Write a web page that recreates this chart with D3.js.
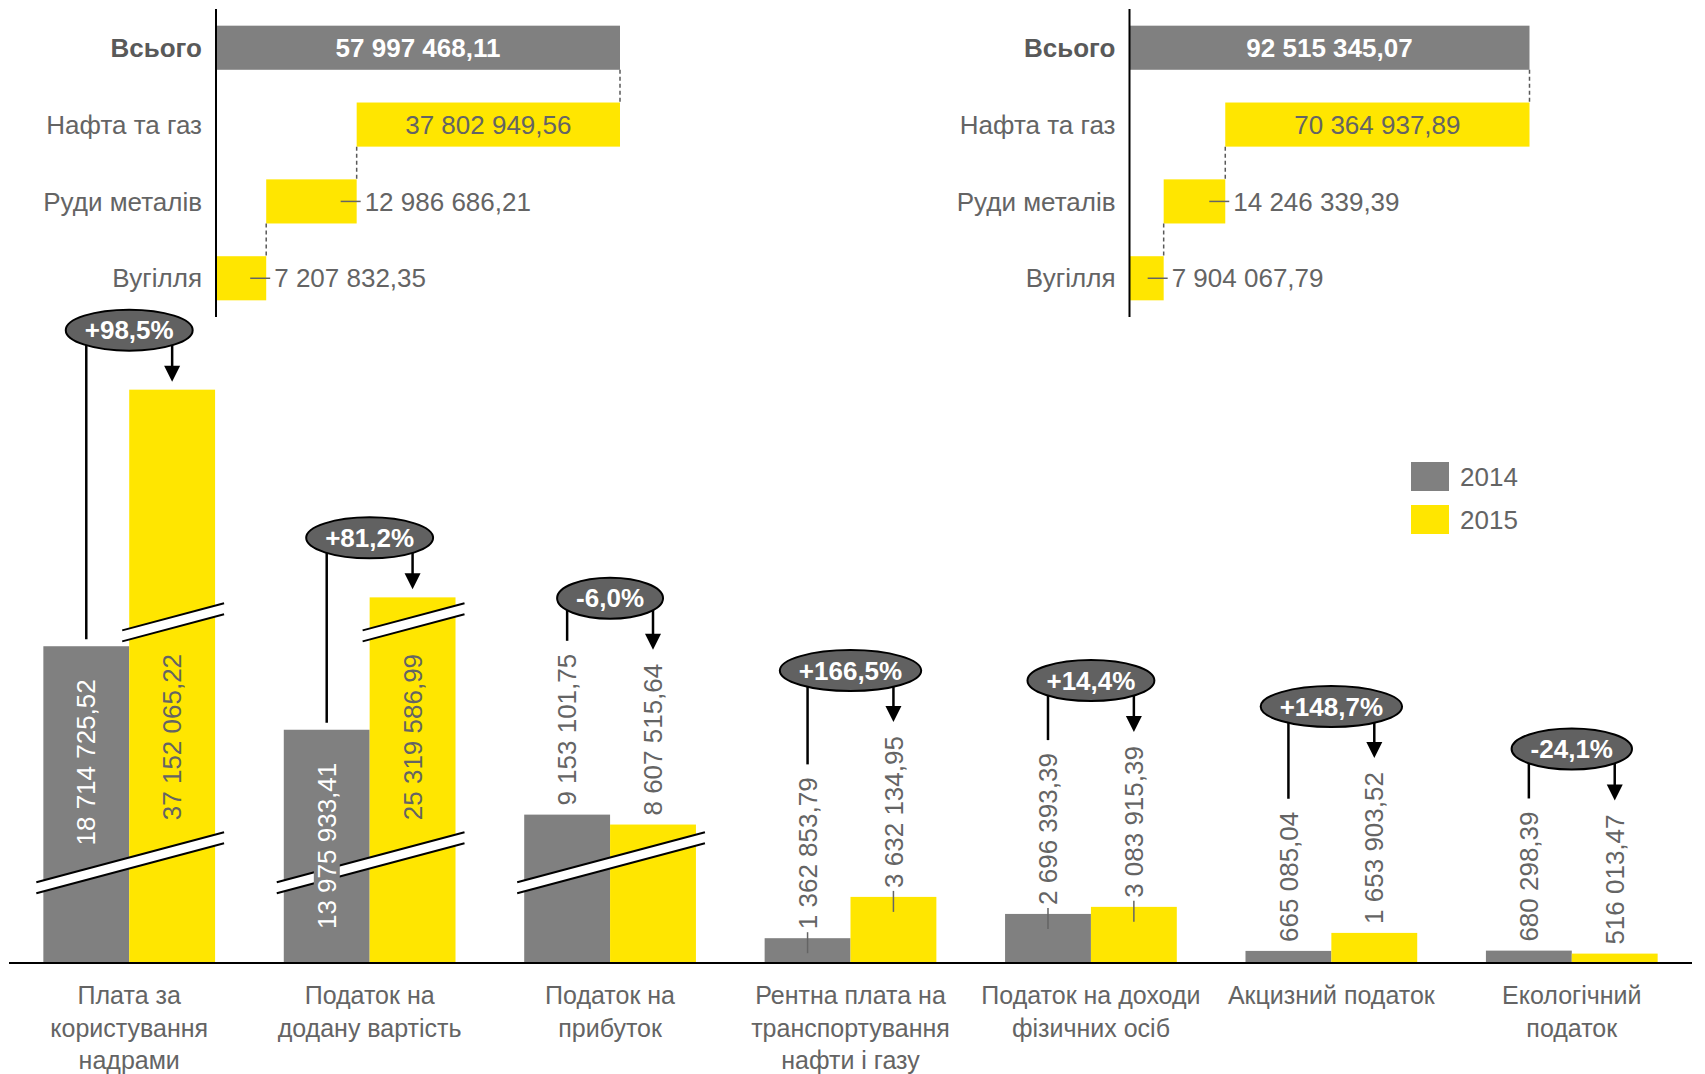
<!DOCTYPE html>
<html>
<head>
<meta charset="utf-8">
<script src="https://cdn.jsdelivr.net/npm/d3@7"></script>
<style>
  body { margin: 0; background: #fff; }
  svg { display: block; }
  text { font-family: Arial, "Liberation Sans", sans-serif; }
</style>
</head>
<body>
<div id="container"></div>
<script>
// top panels: split of the total by mineral (oil/gas, ores, coal)
const mineralRows = ["Всього", "Нафта та газ", "Руди металів", "Вугілля"];
const waterfallLeft = [37802949.56, 12986686.21, 7207832.35];
const waterfallRight = [70364937.89, 14246339.39, 7904067.79];
const waterfallTotals = [57997468.11, 92515345.07];

// bottom chart
const years = ["2014", "2015"];
const categories = [
  ["Плата за", "користування", "надрами"],
  ["Податок на", "додану вартість"],
  ["Податок на", "прибуток"],
  ["Рентна плата на", "транспортування", "нафти і газу"],
  ["Податок на доходи", "фізичних осіб"],
  ["Акцизний податок"],
  ["Екологічний", "податок"]
];
const values2014 = [18714725.52, 13975933.41, 9153101.75, 1362853.79, 2696393.39, 665085.04, 680298.39];
const values2015 = [37152065.22, 25319586.99, 8607515.64, 3632134.95, 3083915.39, 1653903.52, 516013.47];
// part of the value hidden by the axis breaks
const cutLower = [1310000, 1160000, 1000000, 0, 0, 0, 0];
const cutUpper2015 = [4340000, 4070000, 0, 0, 0, 0, 0];
const leaderGroups = [3, 4];

const W = 1705, H = 1074;
const grey = "#808080", yellow = "#FFE600", textGrey = "#646464", darkGrey = "#595959";

const loc = d3.formatLocale({decimal: ",", thousands: " ", grouping: [3], currency: ["", ""], minus: "-"});
const money = loc.format(",.2f");
const pct = loc.format("+.1%");

const svg = d3.select("#container")
  .append("svg")
  .attr("width", W)
  .attr("height", H);

//---------------- waterfalls
function drawWaterfall(parts, total, axisX, rightX) {
  const g = svg.append("g");
  const x = d3.scaleLinear().domain([0, total]).range([axisX, rightX]);
  const y = d3.scaleBand().domain(mineralRows).range([9, 317]).paddingInner(0.426).paddingOuter(0.217);
  const oil = parts[0], ore = parts[1], coal = parts[2];
  const segs = [
    {name: mineralRows[0], a: 0, b: total, v: total, fill: grey, bold: true},
    {name: mineralRows[1], a: coal + ore, b: total, v: oil, fill: yellow},
    {name: mineralRows[2], a: coal, b: coal + ore, v: ore, fill: yellow},
    {name: mineralRows[3], a: 0, b: coal, v: coal, fill: yellow}
  ];

  g.selectAll("rect")
    .data(segs)
    .join("rect")
    .attr("x", d => x(d.a))
    .attr("y", d => y(d.name))
    .attr("width", d => x(d.b) - x(d.a))
    .attr("height", y.bandwidth())
    .attr("fill", d => d.fill);

  // dashed connectors
  for (let i = 0; i < segs.length - 1; i++) {
    const cx = x(segs[i + 1].b);
    g.append("line")
      .attr("x1", cx).attr("x2", cx)
      .attr("y1", y(segs[i].name) + y.bandwidth())
      .attr("y2", y(segs[i + 1].name))
      .attr("stroke", darkGrey)
      .attr("stroke-width", 1.5)
      .attr("stroke-dasharray", "4,3");
  }

  g.selectAll("text.cat")
    .data(segs)
    .join("text")
    .attr("class", "cat")
    .attr("x", axisX - 14)
    .attr("y", d => y(d.name) + y.bandwidth() / 2)
    .attr("dy", "0.35em")
    .attr("text-anchor", "end")
    .attr("font-size", 26)
    .attr("font-weight", d => d.bold ? "bold" : null)
    .attr("fill", d => d.bold ? darkGrey : textGrey)
    .text(d => d.name);

  segs.forEach(d => {
    const w = x(d.b) - x(d.a);
    const cy = y(d.name) + y.bandwidth() / 2;
    if (w > 150) {
      g.append("text")
        .attr("x", (x(d.a) + x(d.b)) / 2)
        .attr("y", cy)
        .attr("dy", "0.35em")
        .attr("text-anchor", "middle")
        .attr("font-size", 26)
        .attr("font-weight", d.bold ? "bold" : null)
        .attr("fill", d.bold ? "#fff" : textGrey)
        .text(money(d.v));
    } else {
      const ex = x(d.b);
      g.append("line")
        .attr("x1", ex - 16).attr("x2", ex + 4)
        .attr("y1", cy).attr("y2", cy)
        .attr("stroke", textGrey)
        .attr("stroke-width", 1.5);
      g.append("text")
        .attr("x", ex + 8)
        .attr("y", cy)
        .attr("dy", "0.35em")
        .attr("font-size", 26)
        .attr("fill", textGrey)
        .text(money(d.v));
    }
  });

  g.append("line")
    .attr("x1", axisX).attr("x2", axisX)
    .attr("y1", 9).attr("y2", 317)
    .attr("stroke", "#000")
    .attr("stroke-width", 2);
}

drawWaterfall(waterfallLeft, waterfallTotals[0], 216, 620);
drawWaterfall(waterfallRight, waterfallTotals[1], 1129.5, 1529.5);

//---------------- grouped bars
const baseline = 963;
const x0 = d3.scaleBand().domain(d3.range(categories.length)).range([9, 1692]);
const x1 = d3.scaleBand().domain(years).range([0, x0.bandwidth()]).paddingOuter(0.4);
const y = d3.scaleLinear().domain([0, 20000000]).range([baseline, baseline - 364]);
const colour = d3.scaleOrdinal().domain(years).range([grey, yellow]);

const bars = [];
values2014.forEach((v, i) => bars.push({i, year: "2014", value: v, shown: v - cutLower[i]}));
values2015.forEach((v, i) => bars.push({i, year: "2015", value: v, shown: v - cutLower[i] - cutUpper2015[i]}));
bars.forEach(d => {
  d.x = x0(d.i) + x1(d.year);
  d.cx = d.x + x1.bandwidth() / 2;
  d.top = y(d.shown);
});

svg.append("g")
  .selectAll("rect")
  .data(bars)
  .join("rect")
  .attr("x", d => d.x)
  .attr("y", d => d.top)
  .attr("width", x1.bandwidth())
  .attr("height", d => y(0) - d.top)
  .attr("fill", d => colour(d.year));

// axis breaks
const slope = 0.266;
const lowerBreak = baseline - 100, upperBreak = baseline - 329;
function breakMark(base, gc, xl, xr) {
  const yAt = (xx, off) => base + off - slope * (xx - gc);
  const g = svg.append("g");
  g.append("path")
    .attr("d", `M${xl},${yAt(xl, -5.5)}L${xr},${yAt(xr, -5.5)}L${xr},${yAt(xr, 5.5)}L${xl},${yAt(xl, 5.5)}Z`)
    .attr("fill", "#fff");
  [-5.5, 5.5].forEach(off => {
    g.append("line")
      .attr("x1", xl).attr("y1", yAt(xl, off))
      .attr("x2", xr).attr("y2", yAt(xr, off))
      .attr("stroke", "#000")
      .attr("stroke-width", 2);
  });
}
categories.forEach((c, i) => {
  const gc = x0(i) + x0.bandwidth() / 2;
  const xg = x0(i) + x1("2014"), xy = x0(i) + x1("2015");
  if (cutLower[i] > 0) breakMark(lowerBreak, gc, xg - 7, xy + x1.bandwidth() + 9);
  if (cutUpper2015[i] > 0) breakMark(upperBreak, gc, xy - 7, xy + x1.bandwidth() + 9);
});

// value labels
bars.forEach(d => {
  const h = y(0) - d.top;
  const gc = x0(d.i) + x0.bandwidth() / 2;
  if (h > 200) {
    let anchorY, anchor;
    if (d.year === "2014") {
      anchorY = d.top + 33; anchor = "end";
    } else {
      const up = upperBreak + 5.5 - slope * (d.cx - gc);
      const low = lowerBreak - 5.5 - slope * (d.cx - gc);
      anchorY = (up + low) / 2; anchor = "middle";
    }
    const lg = svg.append("g").attr("transform", `translate(${d.cx},${anchorY}) rotate(-90)`);
    const bg = lg.append("rect").attr("fill", colour(d.year));
    const t = lg.append("text")
      .attr("text-anchor", anchor)
      .attr("dy", "0.35em")
      .attr("font-size", 26)
      .attr("fill", d.year === "2014" ? "#fff" : textGrey)
      .text(money(d.value));
    const bb = t.node().getBBox();
    bg.attr("x", bb.x - 2).attr("y", bb.y + 2).attr("width", bb.width + 4).attr("height", bb.height - 4);
    d.stackTop = d.top;
    d.gap = d.year === "2014" ? 7 : 8;
  } else {
    const start = d.top - 9;
    const t = svg.append("text")
      .attr("transform", `translate(${d.cx},${start}) rotate(-90)`)
      .attr("dy", "0.35em")
      .attr("font-size", 26)
      .attr("fill", textGrey)
      .text(money(d.value));
    if (leaderGroups.includes(d.i)) {
      svg.append("line")
        .attr("x1", d.cx).attr("x2", d.cx)
        .attr("y1", d.top - 6).attr("y2", d.top + 15)
        .attr("stroke", textGrey)
        .attr("stroke-width", 1.5);
    }
    d.stackTop = start - t.node().getComputedTextLength();
    d.gap = d.year === "2014" ? 13 : 14;
  }
});

// change bubbles
categories.forEach((c, i) => {
  const a = bars.find(d => d.i === i && d.year === "2014");
  const b = bars.find(d => d.i === i && d.year === "2015");
  const gc = x0(i) + x0.bandwidth() / 2;
  const tip = b.stackTop - b.gap;
  const ry = 20.5;
  const cy = tip - 31 - ry;
  const g = svg.append("g");
  g.append("line")
    .attr("x1", a.cx).attr("x2", a.cx)
    .attr("y1", cy).attr("y2", a.stackTop - a.gap)
    .attr("stroke", "#000").attr("stroke-width", 2.5);
  g.append("line")
    .attr("x1", b.cx).attr("x2", b.cx)
    .attr("y1", cy).attr("y2", tip - 14)
    .attr("stroke", "#000").attr("stroke-width", 2.5);
  g.append("path")
    .attr("d", `M${b.cx - 8},${tip - 16}L${b.cx + 8},${tip - 16}L${b.cx},${tip}Z`)
    .attr("fill", "#000");
  const ell = g.append("ellipse")
    .attr("cx", gc).attr("cy", cy).attr("ry", ry)
    .attr("fill", "#616161")
    .attr("stroke", "#000")
    .attr("stroke-width", 2);
  const t = g.append("text")
    .attr("x", gc).attr("y", cy)
    .attr("dy", "0.35em")
    .attr("text-anchor", "middle")
    .attr("font-size", 26)
    .attr("font-weight", "bold")
    .attr("fill", "#fff")
    .text(pct(b.value / a.value - 1));
  ell.attr("rx", t.node().getComputedTextLength() / 2 + 19);
});

// category axis
svg.append("line")
  .attr("x1", 9).attr("x2", 1692)
  .attr("y1", baseline).attr("y2", baseline)
  .attr("stroke", "#000")
  .attr("stroke-width", 2);

svg.append("g")
  .selectAll("text")
  .data(categories)
  .join("text")
  .attr("text-anchor", "middle")
  .attr("font-size", 25)
  .attr("fill", textGrey)
  .each(function(lines, i) {
    d3.select(this).selectAll("tspan")
      .data(lines)
      .join("tspan")
      .attr("x", x0(i) + x0.bandwidth() / 2)
      .attr("y", (l, j) => 1004 + j * 32.7)
      .text(l => l);
  });

// legend
const legend = svg.append("g")
  .selectAll("g")
  .data(years)
  .join("g")
  .attr("transform", (d, i) => `translate(1411,${462 + i * 43})`);
legend.append("rect")
  .attr("width", 38).attr("height", 29)
  .attr("fill", d => colour(d));
legend.append("text")
  .attr("x", 49).attr("y", 15)
  .attr("dy", "0.35em")
  .attr("font-size", 26)
  .attr("fill", textGrey)
  .text(d => d);
</script>
</body>
</html>
